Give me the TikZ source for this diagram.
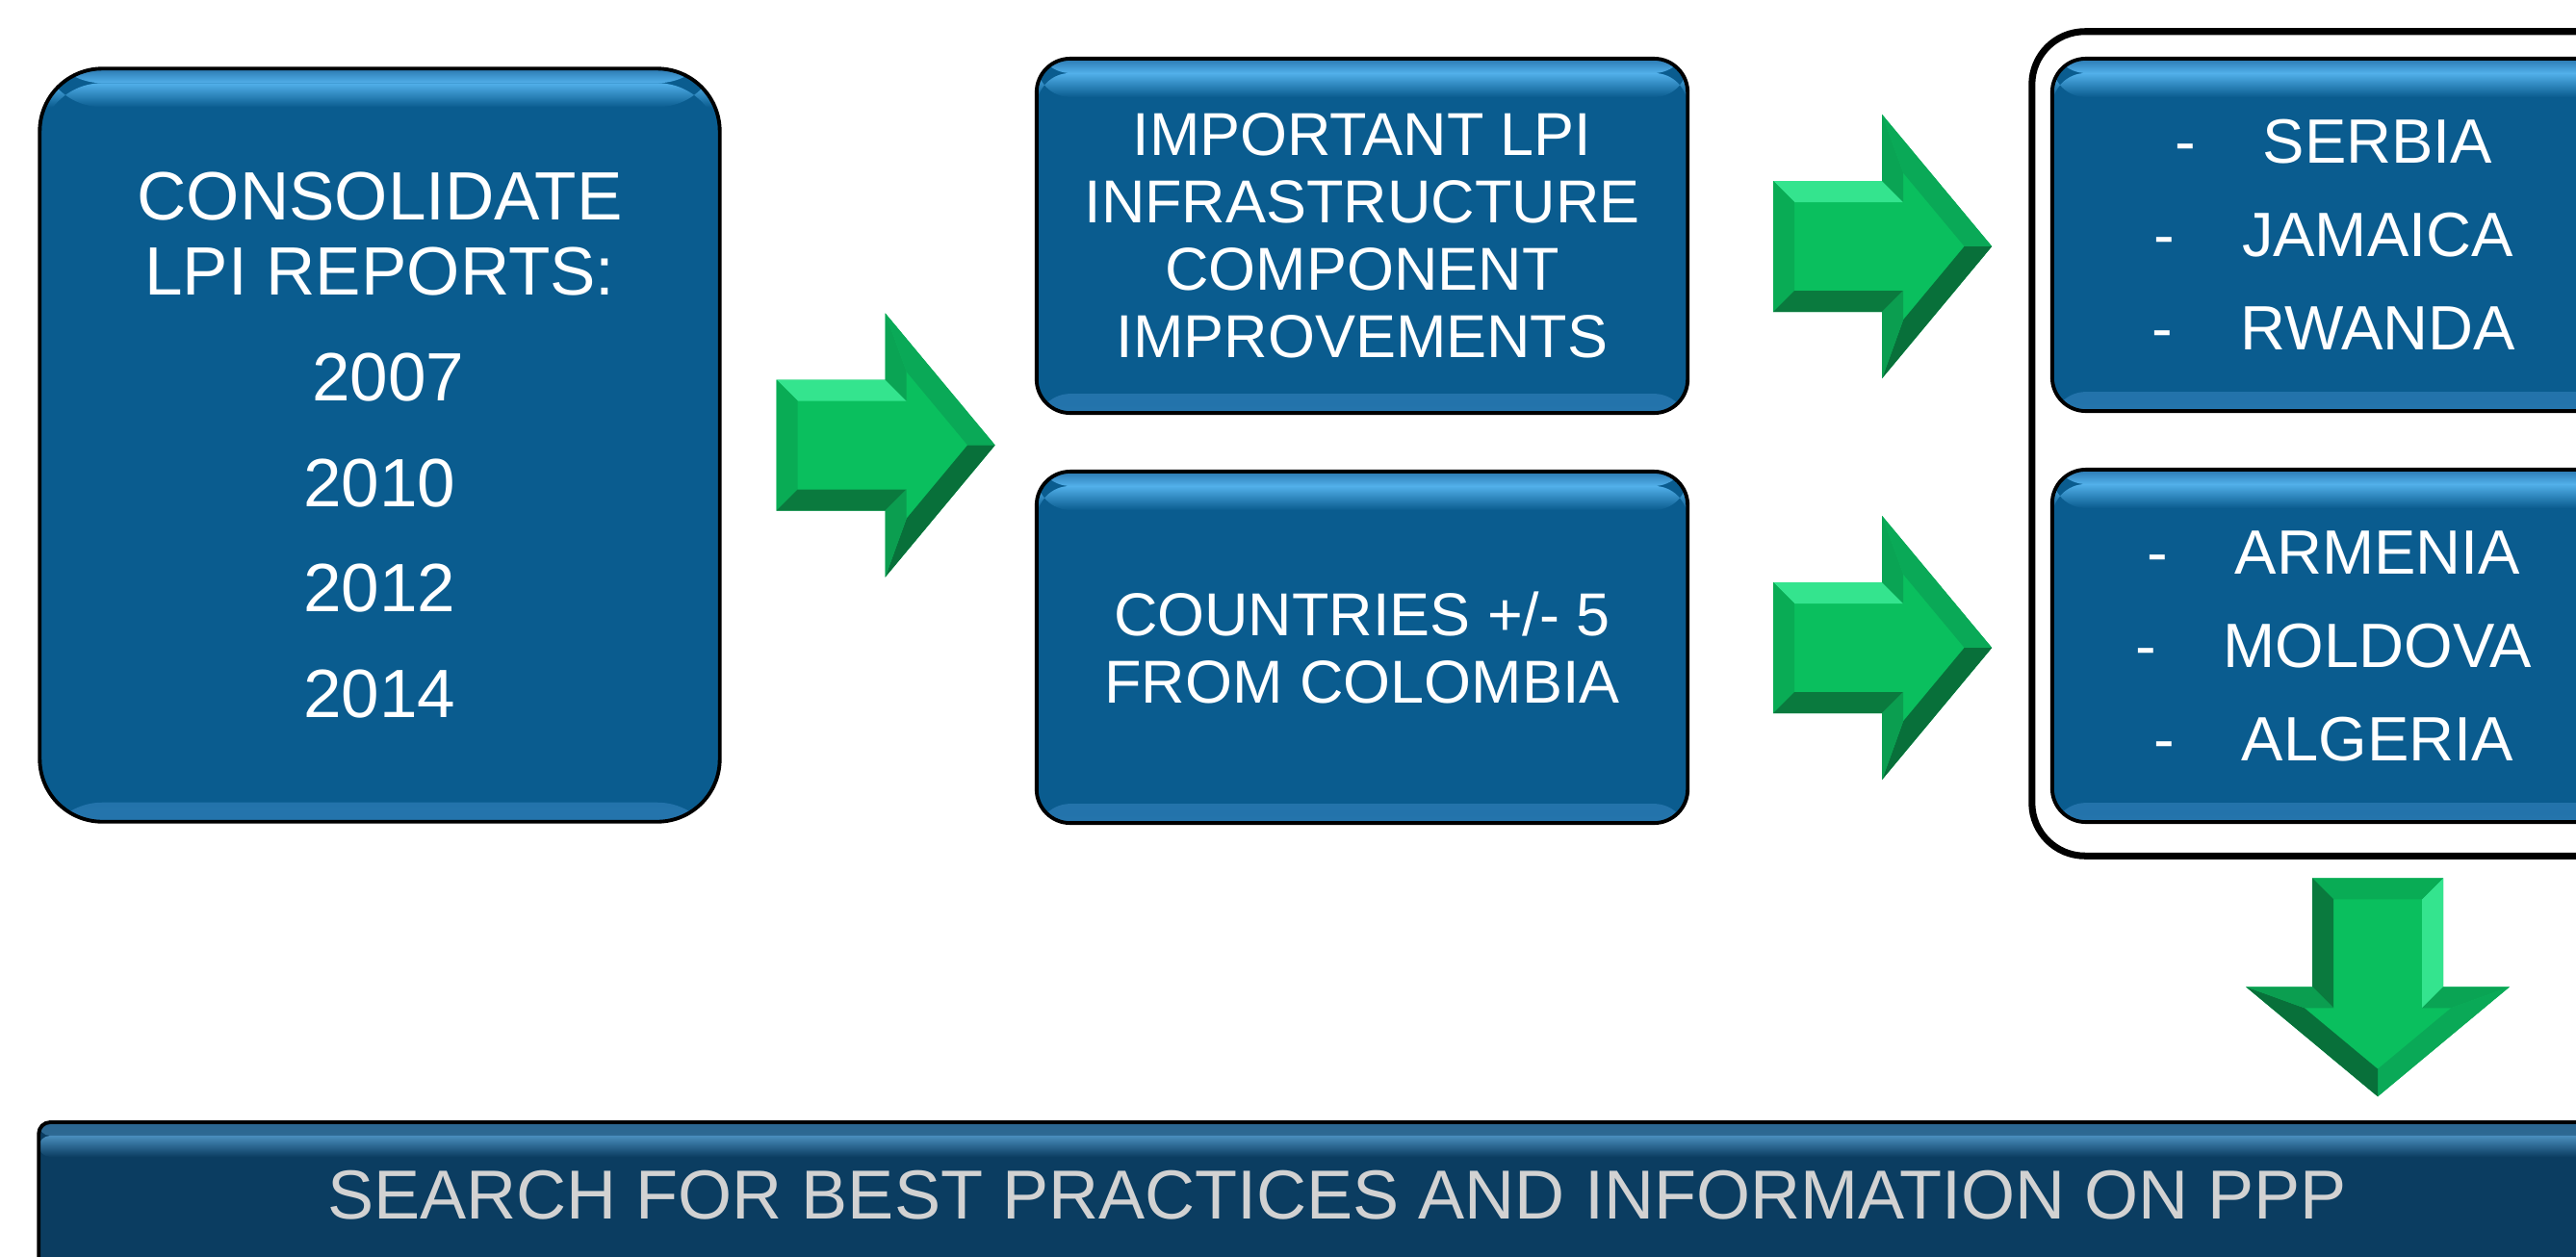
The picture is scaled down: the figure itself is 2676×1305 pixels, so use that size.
\documentclass[tikz,border=0pt]{standalone}
\usepackage{fontspec}
\setmainfont{Liberation Sans}
\usetikzlibrary{calc}
\definecolor{boxblue}{HTML}{0A5C8F}
\definecolor{boxlight}{HTML}{52B0EA}
\definecolor{boxedge}{HTML}{2A78B0}
\definecolor{boxbot}{HTML}{2474AC}
\definecolor{barblue}{HTML}{0B3D61}
\definecolor{barlight}{HTML}{4A8EBD}
\definecolor{bartext}{HTML}{D2D2D2}
\definecolor{gmain}{HTML}{0ABF5E}
\definecolor{gtop}{HTML}{34E48E}
\definecolor{gleft}{HTML}{09AC55}
\definecolor{gbot}{HTML}{0A7A3E}
\definecolor{ghbA}{HTML}{0AA454}
\definecolor{ghtop}{HTML}{0AA957}
\definecolor{ghbot}{HTML}{08703A}
\definecolor{ghbB}{HTML}{0B9E50}
\newcommand\BoxBevel{%
  \shade[top color=boxblue, bottom color=boxbot] ([yshift=0.2cm]path picture bounding box.south west) rectangle (path picture bounding box.south east);
  \shade[top color=boxedge, bottom color=boxlight] (path picture bounding box.north west) rectangle ([yshift=-0.15cm]path picture bounding box.north east);
  \shade[top color=boxlight, bottom color=boxblue] ([yshift=-0.15cm]path picture bounding box.north west) rectangle ([yshift=-0.4cm]path picture bounding box.north east);
}
\newcommand\BarBevel{%
  \shade[top color=barblue!50!barlight, bottom color=barlight] (path picture bounding box.north west) rectangle ([yshift=-0.14cm]path picture bounding box.north east);
  \shade[top color=barlight, bottom color=barblue] ([yshift=-0.14cm]path picture bounding box.north west) rectangle ([yshift=-0.36cm]path picture bounding box.north east);
}
\newcommand\GreenArrow{%
  \fill[gmain] (0,-68) -- (113,-68) -- (113,-137) -- (227,0) -- (113,137) -- (113,68) -- (0,68) -- cycle;
  \fill[gtop] (0,-68) -- (113,-68) -- (135,-46) -- (22,-46) -- cycle;
  \fill[gleft] (0,-68) -- (22,-46) -- (22,46) -- (0,68) -- cycle;
  \fill[gbot] (0,68) -- (22,46) -- (135,46) -- (113,68) -- cycle;
  \fill[ghbA] (113,-68) -- (113,-137) -- (135,-76.2) -- (135,-46) -- cycle;
  \fill[ghtop] (113,-137) -- (227,0) -- (198.4,0) -- (135,-76.2) -- cycle;
  \fill[ghbot] (227,0) -- (113,137) -- (135,76.2) -- (198.4,0) -- cycle;
  \fill[ghbB] (113,137) -- (113,68) -- (135,46) -- (135,76.2) -- cycle;
}
\newcommand\Dash{\makebox[0pt][r]{-\hspace{0.7cm}}}
\tikzset{
  bluebox/.style={draw=black, line width=1.1pt, fill=boxblue, rounded corners=0.35cm,
    inner sep=0pt, outer sep=0pt, text=white, align=center, minimum width=6.76cm,
    path picture={\BoxBevel}},
  groupframe/.style={draw=black, line width=2pt, rounded corners=0.55cm, inner sep=0pt, outer sep=0pt},
  barbox/.style={draw=black, line width=1.1pt, fill=barblue, rounded corners=0.12cm,
    inner sep=0pt, outer sep=0pt, text=bartext, path picture={\BarBevel}}
}
\begin{document}
\begin{tikzpicture}[x=0.01cm, y=-0.01cm]
\useasboundingbox (0,0) rectangle (2676,1305);
\clip (0,0) rectangle (2676,1305);
\fill[white] (0,0) rectangle (2676,1305);

\node[bluebox, rounded corners=0.65cm, minimum width=7.06cm, minimum height=7.82cm,
  font=\fontsize{20.2pt}{22.2pt}\selectfont] (lpi) at (394.5,462.5)
  {CONSOLIDATE\\LPI REPORTS:\\[9pt]\hspace*{0.18cm}2007\\[9pt]2010\\[9pt]2012\\[9pt]2014};

\node[bluebox, minimum height=3.68cm, font=\fontsize{17.9pt}{19.9pt}\selectfont] (imp) at (1415,245)
  {IMPORTANT LPI\\INFRASTRUCTURE\\COMPONENT\\IMPROVEMENTS};
\node[bluebox, minimum height=3.65cm, font=\fontsize{17.9pt}{19.9pt}\selectfont] (cty) at (1415,672.5)
  {COUNTRIES +/- 5\\FROM COLOMBIA};

\node[groupframe, minimum width=7.18cm, minimum height=8.56cm] (grp) at (2470,461) {};
\node[bluebox, minimum height=3.66cm, font=\fontsize{18.5pt}{27.6pt}\selectfont] (ga) at (2470,244)
  {\Dash SERBIA\\\Dash JAMAICA\\\Dash RWANDA};
\node[bluebox, minimum height=3.66cm, font=\fontsize{18.5pt}{27.6pt}\selectfont] (gb) at (2470,671)
  {\Dash ARMENIA\\\Dash MOLDOVA\\\Dash ALGERIA};

\node[barbox, minimum width=26.96cm, minimum height=1.52cm, font=\fontsize{20.5pt}{24pt}\selectfont] (bar) at (1389,1242)
  {SEARCH FOR BEST PRACTICES AND INFORMATION ON PPP};

\begin{scope}[shift={($(lpi.east)+(59,0)$)}] \GreenArrow \end{scope}
\begin{scope}[shift={($(imp.east)+(89,11)$)}] \GreenArrow \end{scope}
\begin{scope}[shift={($(cty.east)+(89,0.5)$)}] \GreenArrow \end{scope}
\begin{scope}[shift={($(grp.south)+(0,23)$)}, rotate=-90] \GreenArrow \end{scope}
\end{tikzpicture}
\end{document}
